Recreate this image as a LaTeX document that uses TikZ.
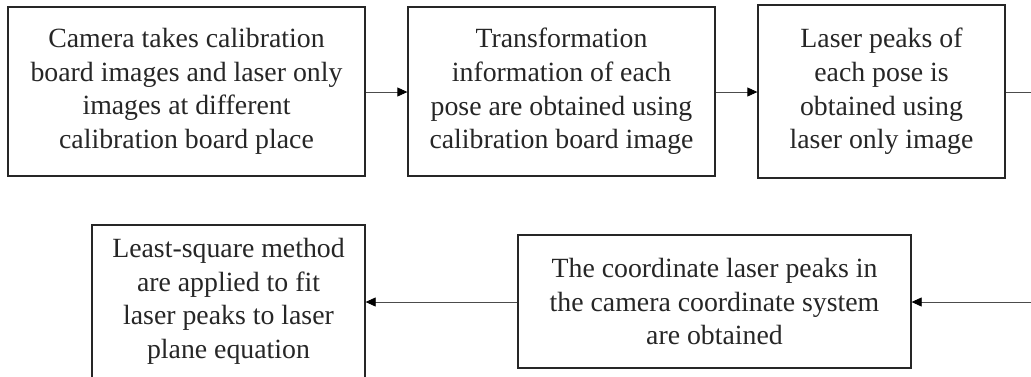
\documentclass[tikz,border=0pt]{standalone}
\usepackage{fontspec}
\setmainfont{Liberation Serif}
\usetikzlibrary{arrows.meta,positioning}
\tikzset{
        % Process boxes
        node_step/.style={rectangle, draw=black!85, line width=1.3pt, align=center, inner sep=0pt,
            font=\fontsize{27.8}{33.6}\selectfont, text=black!85},
        % Flow arrows
        edge_flow/.style={-{Triangle[length=10pt,width=9pt,color=black]}, draw=black!70, line width=0.8pt}
}
\begin{document}
\begin{tikzpicture}[x=1pt, y=-1pt]
            \useasboundingbox (0,0) rectangle (1031,376);
            \node[node_step, minimum width=357pt, minimum height=169pt] (camera) at (186.5,91.5)
                {\rule{0pt}{8pt}Camera takes calibration\\board images and laser only\\images at different\\calibration board place};
            \node[node_step, minimum width=307pt, minimum height=169pt] (transform) at (561.5,91.5)
                {\rule{0pt}{8pt}Transformation\\information of each\\pose are obtained using\\calibration board image};
            \node[node_step, minimum width=247pt, minimum height=173pt] (peaks) at (881.5,91.5)
                {\rule{0pt}{8pt}Laser peaks of\\each pose is\\obtained using\\laser only image};
            \node[node_step, minimum width=393pt, minimum height=133pt] (coord) at (714.5,301.5)
                {The coordinate laser peaks in\\the camera coordinate system\\are obtained};
            \node[node_step, minimum width=273pt, minimum height=153pt] (lsq) at (228.5,301.5)
                {\rule{0pt}{8pt}Least-square method\\are applied to fit\\laser peaks to laser\\plane equation};
            \coordinate (out_top) at (1031,92);
            \coordinate (in_bottom) at (1031,302);
            \draw[edge_flow] (camera.east |- out_top) -- (transform.west |- out_top);
            \draw[edge_flow] (transform.east |- out_top) -- (peaks.west |- out_top);
            \draw[edge_flow, -] (peaks.east |- out_top) -- (out_top);
            \draw[edge_flow] (in_bottom) -- (coord.east |- in_bottom);
            \draw[edge_flow] (coord.west |- in_bottom) -- (lsq.east |- in_bottom);
\end{tikzpicture}
\end{document}
